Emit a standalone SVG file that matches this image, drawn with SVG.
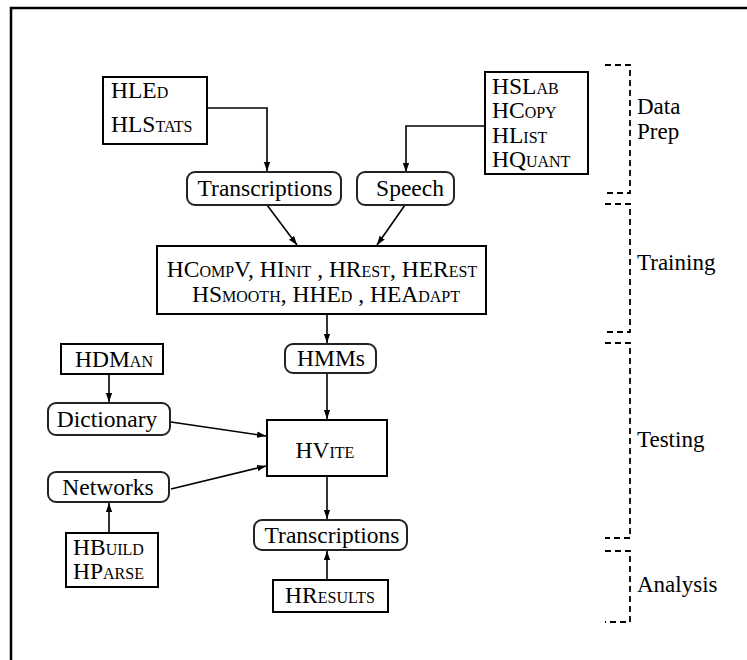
<svg xmlns="http://www.w3.org/2000/svg" width="747" height="660" viewBox="0 0 747 660" font-family="Liberation Serif, serif">
<style>
  text { font-size: 23.5px; fill: #000; }
  .sc { font-variant: small-caps; }
  .mid { text-anchor: middle; }
  .box { fill: #fff; stroke: #000; stroke-width: 2; }
  .rbox { fill: #fff; stroke: #222; stroke-width: 2; }
  .conn { fill: none; stroke: #000; stroke-width: 1.6; }
  .brk { fill: none; stroke: #000; stroke-width: 1.8; stroke-dasharray: 6 4; }
  .frame { fill: none; stroke: #000; stroke-width: 2.5; }
  .lbl { font-size: 23px; }
</style>
<defs>
  <marker id="arr" viewBox="0 0 10 10" refX="10" refY="5" markerWidth="9" markerHeight="9" markerUnits="userSpaceOnUse" orient="auto">
    <path d="M0,1.5 L10,5 L0,8.5 z" fill="#000"/>
  </marker>
</defs>

<path class="frame" d="M11,660 L11,8 L747,8"/>

<g id="connectors">
  <path class="conn" d="M207,108 L267,108 L267,171" marker-end="url(#arr)"/>
  <path class="conn" d="M485,126 L406,126 L406,172" marker-end="url(#arr)"/>
  <path class="conn" d="M267,205 L297,245" marker-end="url(#arr)"/>
  <path class="conn" d="M405,205 L377,245" marker-end="url(#arr)"/>
  <path class="conn" d="M327,314 L327,343" marker-end="url(#arr)"/>
  <path class="conn" d="M327,373 L327,419" marker-end="url(#arr)"/>
  <path class="conn" d="M109,374 L109,402" marker-end="url(#arr)"/>
  <path class="conn" d="M171,422 L266,436" marker-end="url(#arr)"/>
  <path class="conn" d="M171,489 L266,466" marker-end="url(#arr)"/>
  <path class="conn" d="M109,533 L109,503" marker-end="url(#arr)"/>
  <path class="conn" d="M327,476 L327,519" marker-end="url(#arr)"/>
  <path class="conn" d="M327,580 L327,551" marker-end="url(#arr)"/>
</g>

<g id="hled">
  <rect class="box" x="103" y="77" width="104" height="67"/>
  <text class="sc" x="111" y="98">HLEd</text>
  <text class="sc" x="111" y="132">HLStats</text>
</g>

<g id="hslab">
  <rect class="box" x="485" y="72" width="103" height="102"/>
  <text class="sc" x="492" y="94">HSLab</text>
  <text class="sc" x="492" y="118">HCopy</text>
  <text class="sc" x="492" y="143">HList</text>
  <text class="sc" x="492" y="167">HQuant</text>
</g>

<g id="transcriptions1">
  <rect class="rbox" x="187" y="172" width="154" height="33" rx="8"/>
  <text class="mid" x="265" y="196">Transcriptions</text>
</g>

<g id="speech">
  <rect class="rbox" x="357" y="172" width="97" height="33" rx="8"/>
  <text class="mid" x="410" y="196">Speech</text>
</g>

<g id="training">
  <rect class="box" x="157" y="246" width="329" height="68"/>
  <text class="sc mid" x="322" y="277">HCompV, HInit , HRest, HERest</text>
  <text class="sc mid" x="326" y="302">HSmooth, HHEd , HEAdapt</text>
</g>

<g id="hmms">
  <rect class="rbox" x="285" y="344" width="91" height="29" rx="8"/>
  <text class="mid" x="331" y="366">HMMs</text>
</g>

<g id="hdman">
  <rect class="box" x="61" y="344" width="102" height="30"/>
  <text class="sc mid" x="114" y="367">HDMan</text>
</g>

<g id="dictionary">
  <rect class="rbox" x="48" y="403" width="122" height="32" rx="8"/>
  <text class="mid" x="107" y="427">Dictionary</text>
</g>

<g id="hvite">
  <rect class="box" x="267" y="420" width="120" height="56"/>
  <text class="sc mid" x="325" y="458">HVite</text>
</g>

<g id="networks">
  <rect class="rbox" x="48" y="472" width="121" height="30" rx="8"/>
  <text class="mid" x="108" y="495">Networks</text>
</g>

<g id="hbuild">
  <rect class="box" x="66" y="533" width="92" height="54"/>
  <text class="sc" x="73" y="555">HBuild</text>
  <text class="sc" x="73" y="579">HParse</text>
</g>

<g id="transcriptions2">
  <rect class="rbox" x="254" y="520" width="153" height="30" rx="8"/>
  <text class="mid" x="332" y="543">Transcriptions</text>
</g>

<g id="hresults">
  <rect class="box" x="273" y="580" width="115" height="32"/>
  <text class="sc mid" x="330" y="603">HResults</text>
</g>

<g id="stages">
  <path class="brk" d="M605,65 L630,65 L630,193 L605,193"/>
  <path class="brk" d="M605,204 L630,204 L630,332 L605,332"/>
  <path class="brk" d="M605,343 L630,343 L630,538 L605,538"/>
  <path class="brk" d="M605,551 L630,551 L630,622 L605,622"/>
  <text class="lbl" x="637" y="114">Data</text>
  <text class="lbl" x="637" y="139">Prep</text>
  <text class="lbl" x="637" y="270">Training</text>
  <text class="lbl" x="637" y="447">Testing</text>
  <text class="lbl" x="637" y="592">Analysis</text>
</g>
</svg>
